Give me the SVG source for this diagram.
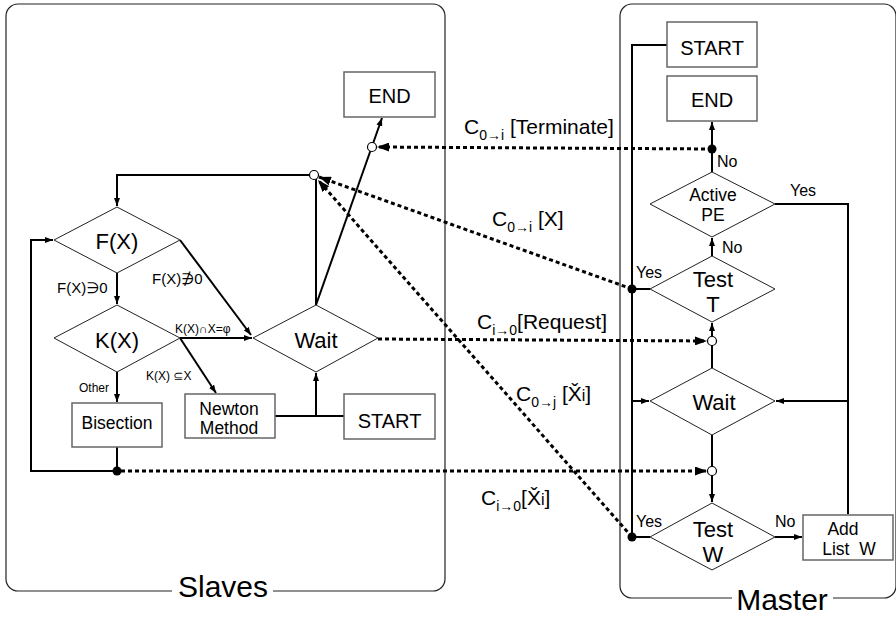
<svg xmlns="http://www.w3.org/2000/svg" width="896" height="617" viewBox="0 0 896 617">
  <style>
    text { font-family: "Liberation Sans", Arial, "DejaVu Sans", sans-serif; fill: #000; }
    .frame { fill: none; stroke: #222; stroke-width: 1.2; }
    .box { fill: #fff; stroke: #666; stroke-width: 1.5; }
    .dia { fill: #fff; stroke: #222; stroke-width: 1; }
    .ln { fill: none; stroke: #000; stroke-width: 2; }
    .msg { fill: none; stroke: #000; stroke-width: 3; stroke-dasharray: 4 3; }
    .hole { fill: #fff; stroke: #000; stroke-width: 1.2; }
    .joint { fill: #000; }
    .big { font-size: 22px; text-anchor: middle; }
    .mid { font-size: 20px; text-anchor: middle; }
    .sm { font-size: 17.5px; text-anchor: middle; }
    .cond { font-size: 15px; }
    .yn { font-size: 16px; }
    .tiny { font-size: 12px; }
    .lbl { font-size: 21px; }
    .sub { font-size: 14px; }
    .title { font-size: 30px; text-anchor: middle; }
  </style>
  <defs>
    <marker id="ah" viewBox="0 0 8 6" refX="8" refY="3" markerWidth="8" markerHeight="6" markerUnits="userSpaceOnUse" orient="auto">
      <path d="M0,0 L8,3 L0,6 Z" fill="#000"/>
    </marker>
    <marker id="ahm" viewBox="0 0 12 9" refX="12" refY="4.5" markerWidth="12" markerHeight="9" markerUnits="userSpaceOnUse" orient="auto">
      <path d="M0,0 L12,4.5 L0,9 Z" fill="#000"/>
    </marker>
  </defs>

  <!-- process frames -->
  <g id="frames">
    <path class="frame" d="M172,591 H18 A12,12 0 0 1 6,579 V16 A12,12 0 0 1 18,4 H433 A12,12 0 0 1 445,16 V579 A12,12 0 0 1 433,591 H273"/>
    <text class="title" x="223" y="597">Slaves</text>
    <path class="frame" d="M732,598 H632 A12,12 0 0 1 620,586 V16 A12,12 0 0 1 632,4 H884 A12,12 0 0 1 896,16 V586 A12,12 0 0 1 884,598 H833"/>
    <text class="title" x="782" y="610">Master</text>
  </g>

  <!-- connectors -->
  <g id="connectors">
    <!-- slave flow -->
    <polyline class="ln" points="310,175 117,175 117,206" marker-end="url(#ah)"/>
    <line class="ln" x1="117" y1="273" x2="117" y2="304" marker-end="url(#ah)"/>
    <line class="ln" x1="117" y1="372" x2="117" y2="402" marker-end="url(#ah)"/>
    <polyline class="ln" points="117,447 117,471 31,471 31,240 53,240" marker-end="url(#ah)"/>
    <line class="ln" x1="180" y1="240" x2="251" y2="335" marker-end="url(#ah)"/>
    <line class="ln" x1="180" y1="338" x2="252" y2="338" marker-end="url(#ah)"/>
    <line class="ln" x1="180" y1="338" x2="216" y2="393" marker-end="url(#ah)"/>
    <line class="ln" x1="275" y1="416" x2="344" y2="416"/>
    <line class="ln" x1="316" y1="416" x2="316" y2="373" marker-end="url(#ah)"/>
    <line class="ln" x1="316" y1="305" x2="316" y2="179"/>
    <line class="ln" x1="316" y1="305" x2="382" y2="118" marker-end="url(#ah)"/>
    <circle class="joint" cx="117" cy="471" r="4.5"/>

    <!-- master flow -->
    <polyline class="ln" points="667,45 632,45 632,537"/>
    <line class="ln" x1="712" y1="172" x2="712" y2="122" marker-end="url(#ah)"/>
    <line class="ln" x1="712" y1="256" x2="712" y2="238" marker-end="url(#ah)"/>
    <polyline class="ln" points="775,204 848,204 848,514"/>
    <line class="ln" x1="848" y1="401" x2="776" y2="401" marker-end="url(#ah)"/>
    <line class="ln" x1="632" y1="401" x2="649" y2="401" marker-end="url(#ah)"/>
    <line class="ln" x1="712" y1="368" x2="712" y2="345"/>
    <line class="ln" x1="712" y1="337" x2="712" y2="323" marker-end="url(#ah)"/>
    <line class="ln" x1="712" y1="435" x2="712" y2="467"/>
    <line class="ln" x1="712" y1="475" x2="712" y2="502" marker-end="url(#ah)"/>
    <line class="ln" x1="775" y1="537" x2="802" y2="537" marker-end="url(#ah)"/>
    <line class="ln" x1="650" y1="537" x2="632" y2="537"/>
    <line class="ln" x1="650" y1="289" x2="632" y2="289"/>
    <circle class="joint" cx="712" cy="149" r="4.5"/>
    <circle class="joint" cx="632" cy="289" r="4.5"/>
    <circle class="joint" cx="632" cy="537" r="4.5"/>

    <!-- messages between master and slaves -->
    <line class="msg" x1="712" y1="149" x2="377" y2="147" marker-end="url(#ahm)"/>
    <line class="msg" x1="632" y1="289" x2="319" y2="177" marker-end="url(#ahm)"/>
    <line class="msg" x1="632" y1="537" x2="318" y2="180" marker-end="url(#ahm)"/>
    <line class="msg" x1="378" y1="339" x2="707" y2="341" marker-end="url(#ahm)"/>
    <line class="msg" x1="121" y1="471" x2="707" y2="471" marker-end="url(#ahm)"/>

    <circle class="hole" cx="372" cy="147" r="4.5"/>
    <circle class="hole" cx="314" cy="175" r="4.5"/>
    <circle class="hole" cx="712" cy="341" r="4.5"/>
    <circle class="hole" cx="712" cy="471" r="4.5"/>

    <!-- condition labels -->
    <text class="cond" x="57" y="293">F(X)∋0</text>
    <text class="cond" x="152" y="284">F(X)∌0</text>
    <text class="tiny" x="175" y="333">K(X)∩X=φ</text>
    <text class="tiny" x="146" y="380">K(X) ⊆X</text>
    <text class="tiny" x="79" y="392">Other</text>
    <text class="yn" x="717" y="167">No</text>
    <text class="yn" x="790" y="196">Yes</text>
    <text class="yn" x="722" y="253">No</text>
    <text class="yn" x="636" y="278">Yes</text>
    <text class="yn" x="636" y="527">Yes</text>
    <text class="yn" x="775" y="527">No</text>

    <!-- message labels -->
    <text class="lbl" x="464" y="134">C<tspan class="sub" dy="6">0→i</tspan><tspan dy="-6"> [Terminate]</tspan></text>
    <text class="lbl" x="492" y="226">C<tspan class="sub" dy="6">0→i</tspan><tspan dy="-6"> [X]</tspan></text>
    <text class="lbl" x="477" y="329">C<tspan class="sub" dy="6">i→0</tspan><tspan dy="-6">[Request]</tspan></text>
    <text class="lbl" x="516" y="401">C<tspan class="sub" dy="6">0→j</tspan><tspan dy="-6"> [X̌<tspan font-size="16">i</tspan>]</tspan></text>
    <text class="lbl" x="481" y="505">C<tspan class="sub" dy="6">i→0</tspan><tspan dy="-6">[X̌<tspan font-size="16">i</tspan>]</tspan></text>
  </g>

  <!-- slave nodes -->
  <g id="s-end">
    <rect class="box" x="344" y="72" width="91" height="45"/>
    <text class="mid" x="389.5" y="103">END</text>
  </g>
  <g id="s-fx">
    <polygon class="dia" points="54,240 117,207 180,240 117,273"/>
    <text class="big" x="117" y="249">F(X)</text>
  </g>
  <g id="s-kx">
    <polygon class="dia" points="54,338 117,305 180,338 117,372"/>
    <text class="big" x="117" y="348">K(X)</text>
  </g>
  <g id="s-wait">
    <polygon class="dia" points="253,338 316,305 378,338 316,372"/>
    <text class="big" x="316" y="348">Wait</text>
  </g>
  <g id="s-bisection">
    <rect class="box" x="72" y="403" width="90" height="44"/>
    <text class="sm" x="117" y="429">Bisection</text>
  </g>
  <g id="s-newton">
    <rect class="box" x="185" y="394" width="90" height="44"/>
    <text class="sm" x="229" y="415">Newton</text>
    <text class="sm" x="229" y="434">Method</text>
  </g>
  <g id="s-start">
    <rect class="box" x="344" y="394" width="91" height="45"/>
    <text class="mid" x="389.5" y="428" font-size="21">START</text>
  </g>

  <!-- master nodes -->
  <g id="m-start">
    <rect class="box" x="667" y="22" width="90" height="45"/>
    <text class="mid" x="712" y="55" font-size="21">START</text>
  </g>
  <g id="m-end">
    <rect class="box" x="667" y="76" width="90" height="45"/>
    <text class="mid" x="712" y="107">END</text>
  </g>
  <g id="m-active">
    <polygon class="dia" points="650,204 712,172 775,204 712,237"/>
    <text class="sm" x="713" y="201" font-size="15.5">Active</text>
    <text class="sm" x="713" y="221" font-size="15.5">PE</text>
  </g>
  <g id="m-testt">
    <polygon class="dia" points="650,289 712,256 775,289 712,322"/>
    <text class="big" x="713" y="287">Test</text>
    <text class="big" x="713" y="312">T</text>
  </g>
  <g id="m-wait">
    <polygon class="dia" points="650,401 712,368 775,401 712,435"/>
    <text class="big" x="714" y="410">Wait</text>
  </g>
  <g id="m-testw">
    <polygon class="dia" points="650,537 712,503 775,537 712,570"/>
    <text class="big" x="713" y="537">Test</text>
    <text class="big" x="713" y="562">W</text>
  </g>
  <g id="m-addlist">
    <rect class="box" x="803" y="515" width="90" height="45"/>
    <text class="sm" x="843" y="535" font-size="17">Add</text>
    <text class="sm" x="849" y="555" font-size="17" xml:space="preserve">List  W</text>
  </g>
</svg>
